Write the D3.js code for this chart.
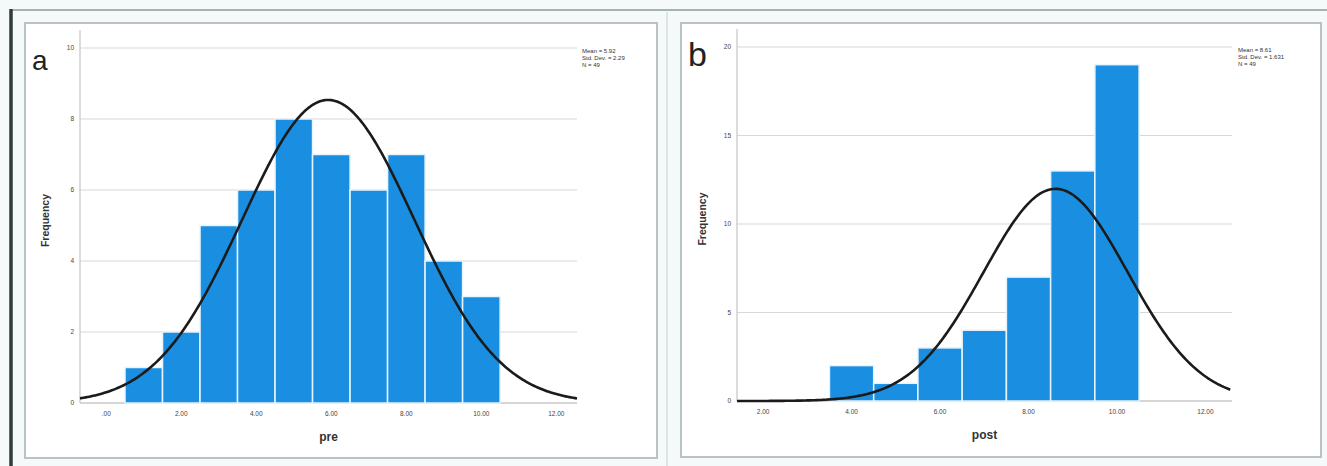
<!DOCTYPE html>
<head>
  <meta charset="utf-8">
  <title>pre / post histograms</title>
</head>
<style>
body { margin: 0; background: #f5f9f9; }
svg text { font-family: "Liberation Sans", Arial, sans-serif; }
.grid line { stroke: #d8d8d8; stroke-width: 1.2; }
.tick-lab { font-size: 6.5px; fill: #444; }
.stat { font-size: 6px; fill: #333; }
</style>
<body>
<svg width="1327" height="466"></svg>
<script src="https://d3js.org/d3.v7.min.js"></script>
<script>
// panel a: pre
var preBins = [1, 2, 3, 4, 5, 6, 7, 8, 9, 10];
var preCounts = [1, 2, 5, 6, 8, 7, 6, 7, 4, 3];
var preTicksX = [0, 2, 4, 6, 8, 10, 12];
var preTicksY = [0, 2, 4, 6, 8, 10];
var preStats = ["Mean = 5.92", "Std. Dev. = 2.29", "N = 49"];

// panel b: post
var postBins = [4, 5, 6, 7, 8, 9, 10];
var postCounts = [2, 1, 3, 4, 7, 13, 19];
var postTicksX = [2, 4, 6, 8, 10, 12];
var postTicksY = [0, 5, 10, 15, 20];
var postStats = ["Mean = 8.61", "Std. Dev. = 1.631", "N = 49"];

var svg = d3.select("svg");

// outer frame
svg.append("rect").attr("x", 11).attr("y", 10).attr("width", 1320).attr("height", 460)
  .attr("fill", "#f6f9f9").attr("stroke", "#8a9a9c").attr("stroke-width", 1.5);
svg.append("line").attr("x1", 11).attr("x2", 11).attr("y1", 9).attr("y2", 466)
  .attr("stroke", "#2e3b3d").attr("stroke-width", 3.5);
svg.append("line").attr("x1", 667).attr("x2", 667).attr("y1", 12).attr("y2", 466)
  .attr("stroke", "#d4dcdc").attr("stroke-width", 1.5);

function panel(o) {
  var g = svg.append("g");
  g.append("rect").attr("x", o.box[0]).attr("y", o.box[1])
    .attr("width", o.box[2] - o.box[0]).attr("height", o.box[3] - o.box[1])
    .attr("fill", "#fff").attr("stroke", "#b9c3c4").attr("stroke-width", 2);

  var x = d3.scaleLinear().domain(o.xdom).range([o.left, o.right]);
  var y = d3.scaleLinear().domain([0, o.ymax]).range([o.bottom, o.top]);

  // gridlines
  g.append("g").attr("class", "grid").selectAll("line")
    .data(o.ticksY.filter(function(d) { return d > 0; }))
    .enter().append("line")
      .attr("x1", o.left).attr("x2", o.right)
      .attr("y1", function(d) { return y(d); }).attr("y2", function(d) { return y(d); });

  // axes lines
  g.append("line").attr("x1", o.left).attr("x2", o.left).attr("y1", o.top - 18).attr("y2", o.bottom)
    .attr("stroke", "#c9c9c9").attr("stroke-width", 1.3);
  g.append("line").attr("x1", o.left).attr("x2", o.right).attr("y1", o.bottom).attr("y2", o.bottom)
    .attr("stroke", "#c9c9c9").attr("stroke-width", 1.3);

  // bars
  g.selectAll("rect.bar").data(o.bins).enter().append("rect")
    .attr("class", "bar")
    .attr("x", function(d) { return x(d - 0.5); })
    .attr("width", function(d) { return x(d + 0.5) - x(d - 0.5); })
    .attr("y", function(d, i) { return y(o.counts[i]); })
    .attr("height", function(d, i) { return y(0) - y(o.counts[i]); })
    .attr("fill", "#1a8fe2").attr("stroke", "#e8f4fc").attr("stroke-width", 1.5);

  // normal curve
  var n = d3.sum(o.counts);
  var mean = d3.sum(o.bins, function(d, i) { return d * o.counts[i]; }) / n;
  var ss = d3.sum(o.bins, function(d, i) { return o.counts[i] * (d - mean) * (d - mean); });
  var sd = Math.sqrt(ss / (n - 1));
  var pts = d3.range(o.xdom[0], o.xdom[1] + 0.001, 0.05).map(function(v) {
    return [v, n / (sd * Math.sqrt(2 * Math.PI)) * Math.exp(-0.5 * Math.pow((v - mean) / sd, 2))];
  });
  g.append("path").datum(pts)
    .attr("d", d3.line().x(function(d) { return x(d[0]); }).y(function(d) { return y(d[1]); }))
    .attr("fill", "none").attr("stroke", "#1b1b1b").attr("stroke-width", 2.6);

  // tick labels
  g.selectAll("text.yt").data(o.ticksY).enter().append("text")
    .attr("class", "tick-lab").attr("text-anchor", "end")
    .attr("x", o.left - 6).attr("y", function(d) { return y(d) + 2; })
    .text(function(d) { return d; });
  g.selectAll("text.xt").data(o.ticksX).enter().append("text")
    .attr("class", "tick-lab").attr("text-anchor", "middle")
    .attr("x", function(d) { return x(d); }).attr("y", o.bottom + 13)
    .text(function(d) { return d === 0 ? ".00" : d.toFixed(2); });

  // axis titles
  g.append("text").attr("x", (o.left + o.right) / 2).attr("y", o.bottom + 38)
    .attr("text-anchor", "middle").attr("font-size", 12).attr("font-weight", "bold").attr("fill", "#333")
    .text(o.xlabel);
  g.append("text")
    .attr("transform", "translate(" + (o.left - 31) + "," + ((o.top + o.bottom) / 2 - 5) + ") rotate(-90)")
    .attr("text-anchor", "middle").attr("font-size", 10.5).attr("font-weight", "bold").attr("fill", "#333")
    .text("Frequency");

  // stats
  g.selectAll("text.st").data(o.stats).enter().append("text")
    .attr("class", "stat").attr("x", o.statX)
    .attr("y", function(d, i) { return o.top + 5 + i * 7; })
    .text(function(d) { return d; });

  // panel letter
  g.append("text").attr("x", o.box[0] + 7).attr("y", o.letterY)
    .attr("font-size", o.letterSize).attr("fill", "#222").text(o.letter);
}

panel({
  box: [25, 23, 657, 458], left: 80, right: 577, top: 48, bottom: 403,
  xdom: [-0.7, 12.55], ymax: 10, bins: preBins, counts: preCounts,
  ticksX: preTicksX, ticksY: preTicksY, stats: preStats, statX: 582,
  xlabel: "pre", letter: "a", letterY: 70, letterSize: 28
});

panel({
  box: [681, 23, 1321, 457], left: 737, right: 1232, top: 47, bottom: 401,
  xdom: [1.41, 12.6], ymax: 20, bins: postBins, counts: postCounts,
  ticksX: postTicksX, ticksY: postTicksY, stats: postStats, statX: 1238,
  xlabel: "post", letter: "b", letterY: 66, letterSize: 34
});
</script>
</body>
